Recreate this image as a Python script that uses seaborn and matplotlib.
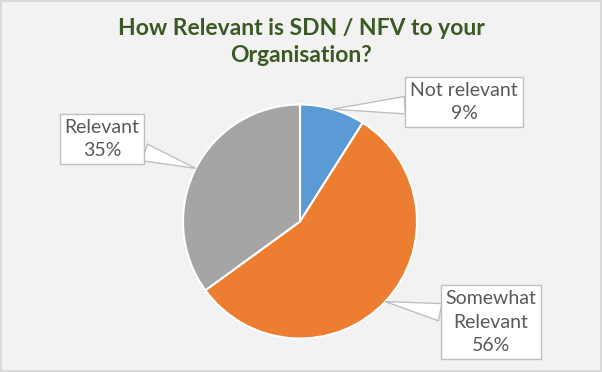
import numpy as np
import seaborn as sns
import matplotlib.pyplot as plt

# data
labels = ['Not relevant', 'Somewhat\nRelevant', 'Relevant']
shares = [9, 56, 35]
colors = ['#5B9BD5', '#ED7D31', '#A5A5A5']
# label box centres in pixels (from top-left of the picture)
box_pos = [(464, 102), (491, 322), (102, 139)]

sns.set_style('white')
plt.rcParams['font.family'] = ['Lato', 'DejaVu Sans']

W, H = 602, 372
fig = plt.figure(figsize=(W / 100, H / 100), dpi=100)
fig.patch.set_facecolor('#F2F2F2')
fig.patch.set_edgecolor('#D9D9D9')
fig.patch.set_linewidth(1.5)

# pie axes, square, centred at (300, 221) with radius 117 px
cx, cy, r = 300, 221.5, 117
ax = fig.add_axes([(cx - r) / W, (H - cy - r) / H, 2 * r / W, 2 * r / H])
ax.set_facecolor('none')

wedges, _ = ax.pie(shares, colors=colors, startangle=90, counterclock=False,
                   wedgeprops=dict(edgecolor='white', linewidth=1.5))
ax.set_xlim(-1, 1)
ax.set_ylim(-1, 1)
ax.axis('off')

# callout labels
for w, lab, val, (bx, by) in zip(wedges, labels, shares, box_pos):
    mid = np.deg2rad((w.theta1 + w.theta2) / 2)
    ax.annotate(f'{lab}\n{val}%', xy=(np.cos(mid), np.sin(mid)), xycoords='data',
                xytext=(bx, H - by), textcoords='figure pixels',
                ha='center', va='center', fontsize=14, color='#595959',
                linespacing=1.45,
                bbox=dict(boxstyle='square,pad=0.25', fc='white', ec='#BFBFBF', lw=1),
                arrowprops=dict(arrowstyle='wedge,tail_width=0.9', fc='white',
                                ec='#BFBFBF', lw=1, shrinkA=0, shrinkB=0))

fig.text(0.5, 1 - 42 / H, 'How Relevant is SDN / NFV to your\nOrganisation?',
         ha='center', va='center', fontsize=16.5, fontweight='bold',
         color='#3B5A23', linespacing=1.4)

fig.savefig('out.png', dpi=100, facecolor=fig.get_facecolor(), edgecolor=fig.get_edgecolor())
